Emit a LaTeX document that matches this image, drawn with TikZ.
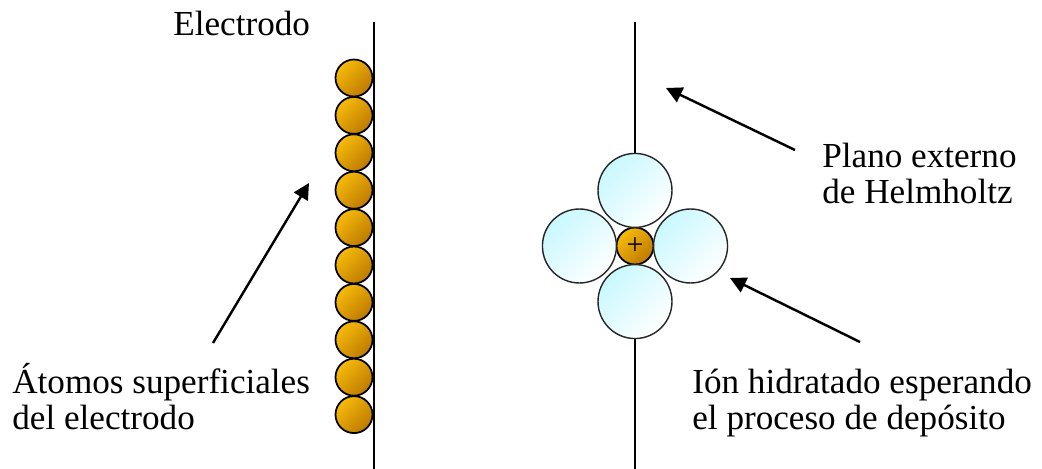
\documentclass[tikz,border=0pt]{standalone}
\usepackage{fontspec}
\setmainfont{Liberation Serif}
\usetikzlibrary{arrows.meta, positioning}
\definecolor{Oro}{RGB}{246,186,10}
\definecolor{OroOscuro}{RGB}{190,122,0}
\definecolor{Agua}{RGB}{200,248,255}

\begin{document}
\begin{tikzpicture}[x=0.02cm, y=-0.02cm,
	font=\fontsize{20}{21}\selectfont,
	fl/.style={-{Triangle[length=3.2mm, width=3.2mm]}, line width=1.4pt},
	placa/.style={line width=1.5pt},
	atomo/.style={circle, draw=black, line width=1pt, left color=Oro, right color=OroOscuro, shading angle=45, minimum size=7.4mm, inner sep=0pt},
	agua/.style={circle, draw=black!85, line width=0.8pt, left color=Agua, right color=white, shading angle=45, minimum size=14.8mm, inner sep=0pt},
	etq/.style={align=left, inner sep=0pt, anchor=base west}]

	\useasboundingbox (0,0) rectangle (1042,469);

	% ---------- electrodo ----------
	\coordinate (e-top) at (374,22);
	\coordinate (e-bot) at (374,469);
	\draw[placa] (e-top) -- (e-bot);
	\foreach \i in {1,...,10}{
		\node[atomo] (a\i) at (354,{78+37.4*(\i-1)}) {};
	}
	\node[etq] (electrodo) at (173,36) {Electrodo};

	% ---------- plano externo de Helmholtz ----------
	\coordinate (p-top) at (635,22);
	\coordinate (p-bot) at (635,469);
	\draw[placa] (p-top) -- (p-bot);

	% ---------- ion hidratado ----------
	\node[atomo, font=\fontsize{17}{17}\selectfont] (ion) at (635,246) {+};
	\node[agua, above=-0.3mm of ion] (h2o-n) {};
	\node[agua, below=-0.3mm of ion] (h2o-s) {};
	\node[agua, left=-0.3mm of ion]  (h2o-w) {};
	\node[agua, right=-0.3mm of ion] (h2o-e) {};

	% ---------- rotulos (base = ultima linea) ----------
	\node[etq] (atomos) at (12,430) {Átomos superficiales\\del electrodo};
	\node[etq] (plano) at (822,204) {Plano externo\\de Helmholtz};
	\node[etq] (hidratado) at (692,430) {Ión hidratado esperando\\el proceso de depósito};

	\coordinate (t-atomos) at (213,343);
	\coordinate (h-atomos) at (309,183);
	\coordinate (t-plano) at (795,150);
	\coordinate (h-plano) at (666,88);
	\coordinate (t-ion) at (860,342);
	\coordinate (h-ion) at (730,278);
	\draw[fl] (t-atomos) -- (h-atomos);
	\draw[fl] (t-plano) -- (h-plano);
	\draw[fl] (t-ion) -- (h-ion);
\end{tikzpicture}
\end{document}
